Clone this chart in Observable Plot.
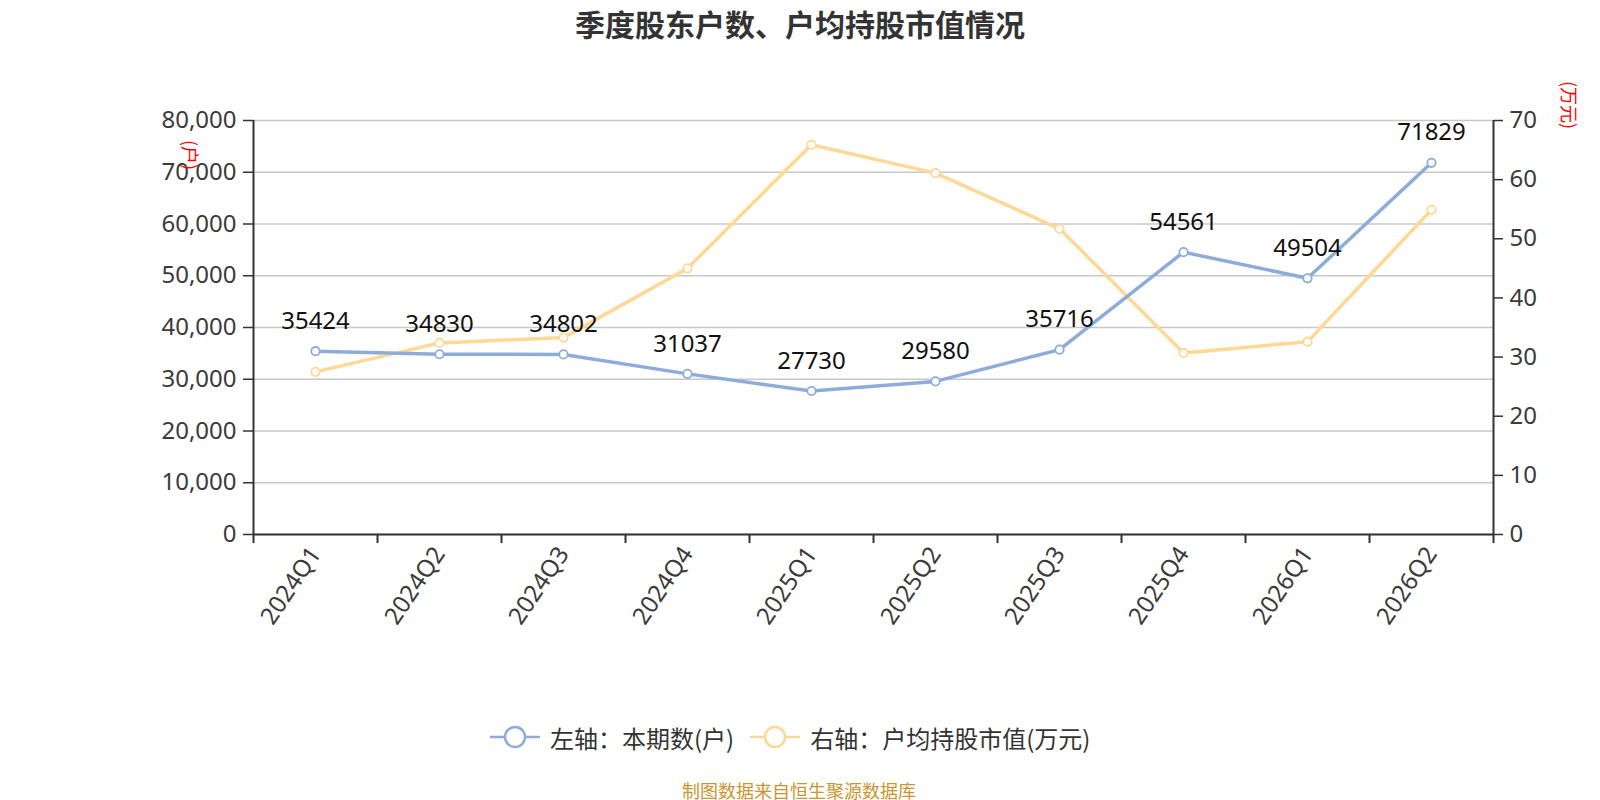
<!DOCTYPE html>
<html>
<head>
<meta charset="utf-8">
<script src="https://cdn.jsdelivr.net/npm/d3@7"></script>
<script src="https://cdn.jsdelivr.net/npm/@observablehq/plot@0.6"></script>
<style>
  html, body { margin: 0; padding: 0; background: #fff; }
  body { width: 1600px; height: 800px; position: relative; overflow: hidden;
         font-family: "Noto Sans", "Noto Sans CJK SC", sans-serif; }
  #title { position: absolute; left: 0; width: 1600px; top: 3px; text-align: center;
           font-size: 30px; font-weight: bold; color: #333; line-height: 40px;
           font-family: "Noto Sans CJK SC", sans-serif; }
  #chart { position: absolute; left: 0; top: 50px; }
  .unit { position: absolute; color: #f00; font-size: 18px; transform: rotate(90deg);
          transform-origin: center center; white-space: nowrap; line-height: 18px;
          font-family: "Noto Sans CJK SC", sans-serif; }
  #legend { position: absolute; top: 721px; left: 490px; height: 32px; display: flex;
            align-items: center; font-size: 24px; color: #333;
            font-family: "Noto Sans CJK SC", sans-serif; }
  .item { display: flex; align-items: center; margin-right: 16px; }
  .item svg { margin-right: 10px; }
  #footer { position: absolute; left: 0; width: 1598px; top: 778px; text-align: center;
            font-size: 18px; color: #c8962f; line-height: 24px;
            font-family: "Noto Sans CJK SC", sans-serif; }
</style>
</head>
<body>
<div id="title">季度股东户数、户均持股市值情况</div>
<div id="chart"></div>
<div class="unit" id="unitL" style="left:176px; top:146px;">(户)</div>
<div class="unit" id="unitR" style="left:1546px; top:96px;">(万元)</div>
<div id="legend"></div>
<div id="footer">制图数据来自恒生聚源数据库</div>
<script>
// ---- data ----
const quarters = ["2024Q1","2024Q2","2024Q3","2024Q4","2025Q1","2025Q2","2025Q3","2025Q4","2026Q1","2026Q2"];
const holders = [35424, 34830, 34802, 31037, 27730, 29580, 35716, 54561, 49504, 71829];
const avgValue = [27.5, 32.4, 33.3, 45.0, 65.9, 61.1, 51.7, 30.7, 32.6, 54.9];
const leftTicks = [0, 10000, 20000, 30000, 40000, 50000, 60000, 70000, 80000];
const rightTicks = [0, 10, 20, 30, 40, 50, 60, 70];
const leftMax = 80000, rightMax = 70;
const seriesNames = ["左轴：本期数(户)", "右轴：户均持股市值(万元)"];
const colors = ["#8dacdb", "#fed894"];

const k = leftMax / rightMax;
const blue = quarters.map((q, i) => ({q, v: holders[i]}));
const orange = quarters.map((q, i) => ({q, v: avgValue[i], y: avgValue[i] * k}));

const W = 1600, H = 620;
const chart = Plot.plot({
  width: W, height: H,
  marginLeft: 253, marginRight: 107, marginTop: 70, marginBottom: 136,
  style: {fontFamily: '"Noto Sans", "Noto Sans CJK SC", sans-serif', fontSize: "24px", color: "#333", background: "#fff"},
  x: {type: "point", domain: quarters, padding: 0.5, axis: null},
  y: {domain: [0, leftMax], axis: null},
  marks: [
    Plot.gridY(leftTicks, {stroke: "#c8c8c8", strokeOpacity: 1, strokeWidth: 1.5}),
    Plot.axisY(leftTicks, {anchor: "left", label: null, tickSize: 10, tickPadding: 7, stroke: "#333", strokeWidth: 1.5,
      fill: "#3a3a3a", fontSize: 24, tickFormat: d => d3.format(",")(d)}),
    Plot.axisY(rightTicks.map(t => t * k), {anchor: "right", label: null, tickSize: 9, tickPadding: 7, stroke: "#333", strokeWidth: 1.5,
      fill: "#3a3a3a", fontSize: 24, tickFormat: d => String(Math.round(d / k))}),
    Plot.axisX(quarters, {anchor: "bottom", label: null, tickSize: 9, tickFormat: () => "", dx: -62, stroke: "#333", strokeWidth: 2}),
    Plot.axisX([quarters[quarters.length - 1]], {anchor: "bottom", label: null, tickSize: 9, tickFormat: () => "", dx: 62, stroke: "#333", strokeWidth: 2}),
    Plot.axisX(quarters, {anchor: "bottom", label: null, tickSize: 0, tickPadding: 15, tickRotate: -56, fill: "#3a3a3a", fontSize: 24}),
    Plot.ruleX([quarters[0]], {dx: -62, stroke: "#333", strokeWidth: 2}),
    Plot.ruleX([quarters[quarters.length - 1]], {dx: 62, stroke: "#333", strokeWidth: 2}),
    Plot.ruleY([0], {stroke: "#333", strokeWidth: 2}),
    Plot.line(orange, {x: "q", y: "y", stroke: colors[1], strokeWidth: 3.5}),
    Plot.line(blue, {x: "q", y: "v", stroke: colors[0], strokeWidth: 3.5}),
    Plot.dot(orange, {x: "q", y: "y", r: 4.2, fill: "#fff", stroke: colors[1], strokeWidth: 1.8}),
    Plot.dot(blue, {x: "q", y: "v", r: 4.2, fill: "#fff", stroke: colors[0], strokeWidth: 1.8}),
    Plot.text(blue, {x: "q", y: "v", text: d => String(d.v), dy: -30, fill: "#111", fontSize: 24})
  ]
});
document.getElementById("chart").appendChild(chart);

// legend
const legend = document.getElementById("legend");
seriesNames.forEach((name, i) => {
  const item = document.createElement("div");
  item.className = "item";
  item.innerHTML = `<svg width="50" height="26" viewBox="0 0 50 26">
    <line x1="0" y1="13" x2="50" y2="13" stroke="${colors[i]}" stroke-width="2.5"/>
    <circle cx="25" cy="13" r="10" fill="#fff" stroke="${colors[i]}" stroke-width="2.5"/></svg><span>${name}</span>`;
  legend.appendChild(item);
});
</script>
</body>
</html>
